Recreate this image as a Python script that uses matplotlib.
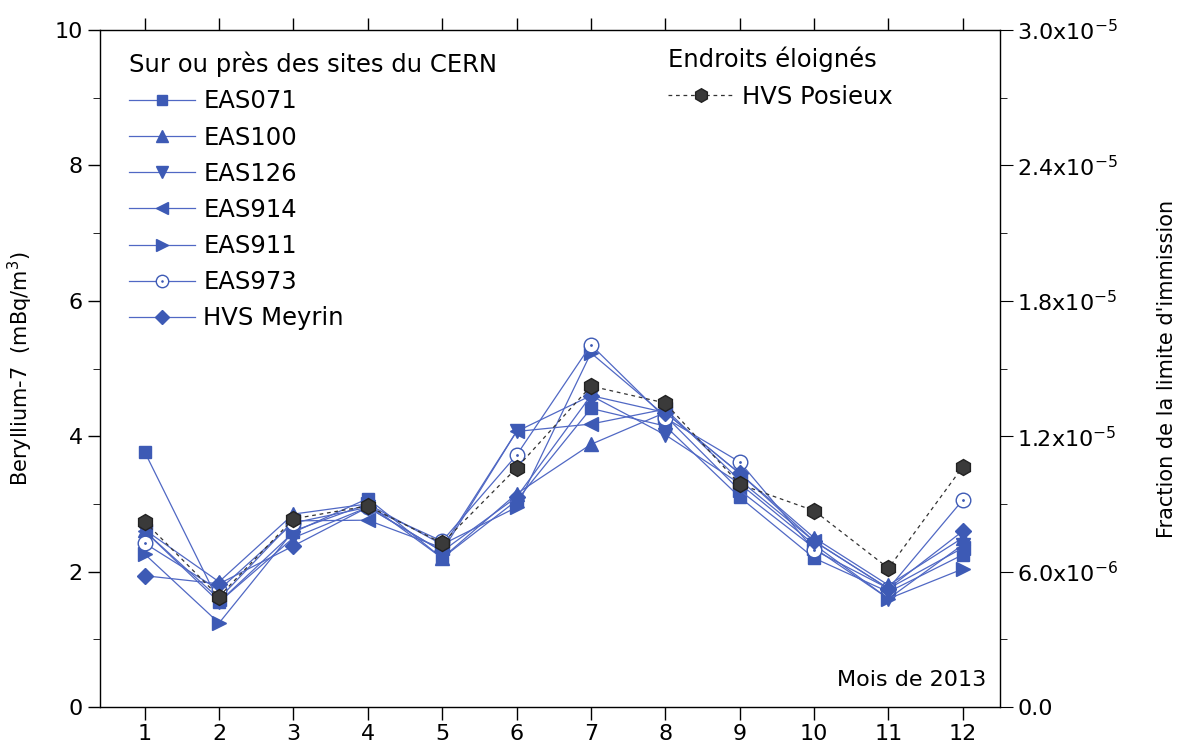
import matplotlib
matplotlib.use('Agg')
import matplotlib.pyplot as plt
from matplotlib.legend_handler import HandlerTuple

# Beryllium-7 monthly means, mBq/m3
months = [1, 2, 3, 4, 5, 6, 7, 8, 9, 10, 11, 12]

eas071 = [3.77, 1.55, 2.58, 3.08, 2.20, 3.05, 4.41, 4.15, 3.10, 2.20, 1.70, 2.25]
eas100 = [2.62, 1.85, 2.85, 3.00, 2.20, 3.15, 3.88, 4.35, 3.45, 2.50, 1.80, 2.50]
eas126 = [2.60, 1.55, 2.50, 2.95, 2.30, 4.07, 4.60, 4.02, 3.30, 2.40, 1.60, 2.40]
eas914 = [2.60, 1.60, 2.75, 2.76, 2.35, 4.07, 4.18, 4.40, 3.35, 2.45, 1.75, 2.35]
eas911 = [2.26, 1.24, 2.60, 3.00, 2.40, 2.95, 5.23, 4.30, 3.20, 2.35, 1.60, 2.04]
eas973 = [2.42, 1.73, 2.72, 2.95, 2.45, 3.72, 5.35, 4.27, 3.62, 2.32, 1.75, 3.06]
meyrin = [1.94, 1.82, 2.38, 2.95, 2.30, 3.10, 4.60, 4.35, 3.45, 2.45, 1.75, 2.60]
posieux = [2.74, 1.63, 2.78, 2.97, 2.42, 3.53, 4.74, 4.49, 3.29, 2.90, 2.05, 3.55]

right_ticks = [0, 6e-6, 1.2e-5, 1.8e-5, 2.4e-5, 3.0e-5]
right_labels = ['0.0', '6.0x10$^{-6}$', '1.2x10$^{-5}$', '1.8x10$^{-5}$',
                '2.4x10$^{-5}$', '3.0x10$^{-5}$']

plt.rcParams['font.family'] = 'DejaVu Sans'
plt.rcParams['mathtext.default'] = 'regular'

blue = '#3d5ab5'
lblue = '#5068c4'
fs = 16
lfs = 17.5

fig = plt.figure(figsize=(11.89, 7.49), dpi=100)
ax = fig.add_axes([0.0841, 0.056, 0.757, 0.904])

ms = 9.5
h1, = ax.plot(months, eas071, color=lblue, lw=0.9, marker='s', ms=ms - 1,
              mfc=blue, mec=blue)
h2, = ax.plot(months, eas100, color=lblue, lw=0.9, marker='^', ms=ms,
              mfc=blue, mec=blue)
h3, = ax.plot(months, eas126, color=lblue, lw=0.9, marker='v', ms=ms,
              mfc=blue, mec=blue)
h4, = ax.plot(months, eas914, color=lblue, lw=0.9, marker='<', ms=ms,
              mfc=blue, mec=blue)
h5, = ax.plot(months, eas911, color=lblue, lw=0.9, marker='>', ms=ms,
              mfc=blue, mec=blue)
h6, = ax.plot(months, eas973, color=lblue, lw=0.9, marker='o', ms=ms + 1,
              mfc='white', mec=blue, mew=1.0)
h6b, = ax.plot(months, eas973, ls='none', marker='.', ms=2, color=blue)
h7, = ax.plot(months, meyrin, color=lblue, lw=0.9, marker='D', ms=ms - 1,
              mfc=blue, mec=blue)
hp, = ax.plot(months, posieux, color='#333333', lw=0.9, ls=(0, (3, 3)),
              marker='h', ms=ms + 2, mfc='#3a3a3a', mec='#222222', zorder=5)

ax.set_xlim(0.4, 12.5)
ax.set_ylim(0, 10)
ax.set_xticks(months)
ax.set_yticks([0, 2, 4, 6, 8, 10])
ax.set_yticks(range(11), minor=True)
ax.tick_params(axis='both', which='major', direction='out', length=9,
               labelsize=fs, width=1)
ax.tick_params(axis='y', which='minor', direction='out', length=5)
ax.tick_params(axis='x', top=True)
ax.set_ylabel('Beryllium-7  (mBq/m$^3$)', fontsize=fs - 1, labelpad=14)
for s in ax.spines.values():
    s.set_linewidth(1)
    s.set_color('#333333')

ax2 = ax.twinx()
ax2.set_ylim(0, 3e-5)
ax2.set_yticks(right_ticks)
ax2.set_yticklabels(right_labels)
ax2.set_yticks([i * 3e-6 for i in range(11)], minor=True)
ax2.tick_params(axis='y', which='major', direction='out', length=9,
                labelsize=fs)
ax2.tick_params(axis='y', which='minor', direction='out', length=5)
ax2.set_ylabel("Fraction de la limite d'immission", fontsize=fs - 1,
               labelpad=28)

ax.text(0.985, 0.025, 'Mois de 2013', transform=ax.transAxes, ha='right',
        va='bottom', fontsize=fs)

leg1 = ax.legend([h1, h2, h3, h4, h5, (h6, h6b), h7],
                 ['EAS071', 'EAS100', 'EAS126', 'EAS914', 'EAS911',
                  'EAS973', 'HVS Meyrin'],
                 handler_map={tuple: HandlerTuple(ndivide=1)},
                 title='Sur ou près des sites du CERN', loc='upper left',
                 bbox_to_anchor=(0.008, 1.0), frameon=False, fontsize=lfs,
                 title_fontsize=lfs, alignment='left', handlelength=2.7,
                 handletextpad=0.35, labelspacing=0.5, borderaxespad=0.5,
                 markerscale=0.85)
ax.add_artist(leg1)
leg2 = ax.legend([hp], ['HVS Posieux'], title='Endroits éloignés',
                 loc='upper left', bbox_to_anchor=(0.612, 1.0), frameon=False,
                 fontsize=lfs, title_fontsize=lfs, alignment='left',
                 handlelength=2.7, handletextpad=0.35, borderaxespad=0.3,
                 markerscale=0.85)

fig.savefig('out.png', dpi=100)
